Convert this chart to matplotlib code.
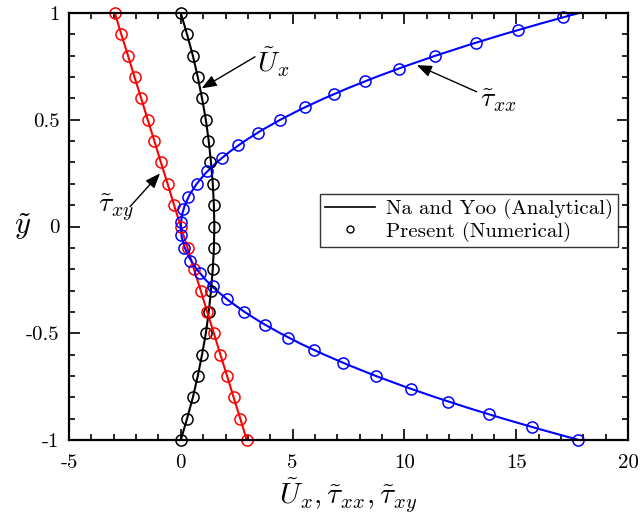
import numpy as np
import matplotlib
matplotlib.use('Agg')
import matplotlib.pyplot as plt

plt.rcParams['font.family'] = 'serif'
plt.rcParams['font.serif'] = ['cmr10']
plt.rcParams['mathtext.fontset'] = 'cm'
plt.rcParams['axes.unicode_minus'] = False
plt.rcParams['axes.formatter.use_mathtext'] = True

# analytical profiles (lines)
y_line = [-1.0, -0.9, -0.8, -0.7, -0.6, -0.5, -0.4, -0.3, -0.2, -0.1, 0.0,
          0.1, 0.2, 0.3, 0.4, 0.5, 0.6, 0.7, 0.8, 0.9, 1.0]
U_line = [0.0, 0.28, 0.54, 0.76, 0.95, 1.12, 1.25, 1.35, 1.43, 1.48, 1.5,
          1.48, 1.43, 1.35, 1.25, 1.12, 0.95, 0.76, 0.54, 0.28, 0.0]
txy_line = [2.95, 2.66, 2.36, 2.07, 1.77, 1.48, 1.18, 0.89, 0.59, 0.3, 0.0,
            -0.3, -0.59, -0.89, -1.18, -1.48, -1.77, -2.07, -2.36, -2.66, -2.95]
y_txx_line = [-1.0, -0.95, -0.9, -0.85, -0.8, -0.75, -0.7, -0.65, -0.6, -0.55, -0.5,
              -0.45, -0.4, -0.35, -0.3, -0.25, -0.2, -0.15, -0.1, -0.05, 0.0,
              0.05, 0.1, 0.15, 0.2, 0.25, 0.3, 0.35, 0.4, 0.45, 0.5,
              0.55, 0.6, 0.65, 0.7, 0.75, 0.8, 0.85, 0.9, 0.95, 1.0]
txx_line = [17.8, 16.07, 14.42, 12.86, 11.39, 10.01, 8.72, 7.52, 6.41, 5.38, 4.45,
            3.6, 2.85, 2.18, 1.6, 1.11, 0.71, 0.4, 0.18, 0.04, 0.0,
            0.04, 0.18, 0.4, 0.71, 1.11, 1.6, 2.18, 2.85, 3.6, 4.45,
            5.38, 6.41, 7.52, 8.72, 10.01, 11.39, 12.86, 14.42, 16.07, 17.8]

# numerical results (markers)
y_pts = y_line
U_pts = [0.0, 0.27, 0.55, 0.76, 0.95, 1.12, 1.24, 1.34, 1.42, 1.47, 1.49,
         1.47, 1.42, 1.32, 1.22, 1.12, 0.94, 0.75, 0.55, 0.27, 0.0]
txy_pts = [2.95, 2.66, 2.36, 2.07, 1.77, 1.48, 1.18, 0.89, 0.59, 0.3, 0.0,
           -0.3, -0.59, -0.89, -1.18, -1.48, -1.77, -2.07, -2.36, -2.66, -2.95]
y_txx_pts = [-1.0, -0.94, -0.88, -0.82, -0.76, -0.70, -0.64, -0.58, -0.52, -0.46,
             -0.40, -0.34, -0.28, -0.22, -0.16, -0.10, -0.04, 0.02, 0.08, 0.14,
             0.20, 0.26, 0.32, 0.38, 0.44, 0.50, 0.56, 0.62, 0.68, 0.74,
             0.80, 0.86, 0.92, 0.98]
txx_pts = [17.78, 15.72, 13.8, 11.96, 10.3, 8.73, 7.27, 5.97, 4.81, 3.75,
           2.84, 2.05, 1.42, 0.85, 0.43, 0.15, 0.03, 0.01, 0.11, 0.33,
           0.71, 1.18, 1.83, 2.58, 3.44, 4.44, 5.56, 6.83, 8.22, 9.76,
           11.38, 13.18, 15.06, 17.08]

fig = plt.figure(figsize=(6.4, 5.21), dpi=100)
ax = fig.add_axes([0.1078, 0.1555, 0.8735, 0.8195])

lw = 1.5
ms = 8
ax.plot(U_line, y_line, color='k', lw=lw)
ax.plot(txy_line, y_line, color='r', lw=lw)
ax.plot(txx_line, y_txx_line, color='b', lw=lw)
ax.plot(U_pts, y_pts, 'o', mfc='none', mec='k', ms=ms, mew=1.1, clip_on=False)
ax.plot(txy_pts, y_pts, 'o', mfc='none', mec='r', ms=ms, mew=1.1, clip_on=False)
ax.plot(txx_pts, y_txx_pts, 'o', mfc='none', mec='b', ms=ms, mew=1.1, clip_on=False)

# legend proxies
h1, = ax.plot([], [], color='k', lw=1.2, label='Na and Yoo (Analytical)')
h2, = ax.plot([], [], 'o', mfc='none', mec='k', ms=5, mew=1.0, label='Present (Numerical)')
leg = ax.legend(handles=[h1, h2], loc='center right', bbox_to_anchor=(0.982, 0.514),
                fontsize=15, frameon=True, fancybox=False, edgecolor='k',
                handlelength=2.4, borderpad=0.25, labelspacing=0.1, handletextpad=0.5,
                borderaxespad=0)
leg.get_frame().set_linewidth(1.0)

arrow = dict(arrowstyle='-|>,head_length=0.9,head_width=0.35', color='k', lw=1.0,
             shrinkA=0, shrinkB=0)
ax.annotate('', xy=(0.93, 0.647), xytext=(3.32, 0.795), arrowprops=arrow)
ax.text(4.15, 0.77, r'$\tilde{U}_x$', fontsize=20, ha='center', va='center')
ax.annotate('', xy=(10.55, 0.756), xytext=(13.23, 0.631), arrowprops=arrow)
ax.text(14.2, 0.59, r'$\tilde{\tau}_{xx}$', fontsize=20, ha='center', va='center')
ax.annotate('', xy=(-0.93, 0.249), xytext=(-2.27, 0.093), arrowprops=arrow)
ax.text(-2.9, 0.09, r'$\tilde{\tau}_{xy}$', fontsize=20, ha='center', va='center')

ax.set_xlim(-5, 20)
ax.set_ylim(-1, 1)
ax.set_xticks([-5, 0, 5, 10, 15, 20])
ax.set_xticklabels(['-5', '0', '5', '10', '15', '20'])
ax.set_yticks([-1, -0.5, 0, 0.5, 1])
ax.set_yticklabels(['-1', '-0.5', '0', '0.5', '1'])
ax.set_xticks(np.arange(-5, 21, 1), minor=True)
ax.set_yticks(np.arange(-1, 1.01, 0.1), minor=True)
ax.tick_params(which='both', direction='in', top=True, right=True, labelsize=15, width=1.2)
ax.tick_params(which='major', length=8)
ax.tick_params(which='minor', length=4.5)
ax.tick_params(axis='x', which='major', pad=10)
ax.tick_params(axis='y', which='major', pad=7)
for s in ax.spines.values():
    s.set_linewidth(1.6)

ax.set_xlabel(r'$\tilde{U}_x, \tilde{\tau}_{xx}, \tilde{\tau}_{xy}$', fontsize=21, labelpad=3)
ax.set_ylabel(r'$\tilde{y}$', fontsize=22, rotation=0, va='center', ha='center')
ax.yaxis.set_label_coords(-0.084, 0.5)

fig.savefig('out.png', dpi=100)
